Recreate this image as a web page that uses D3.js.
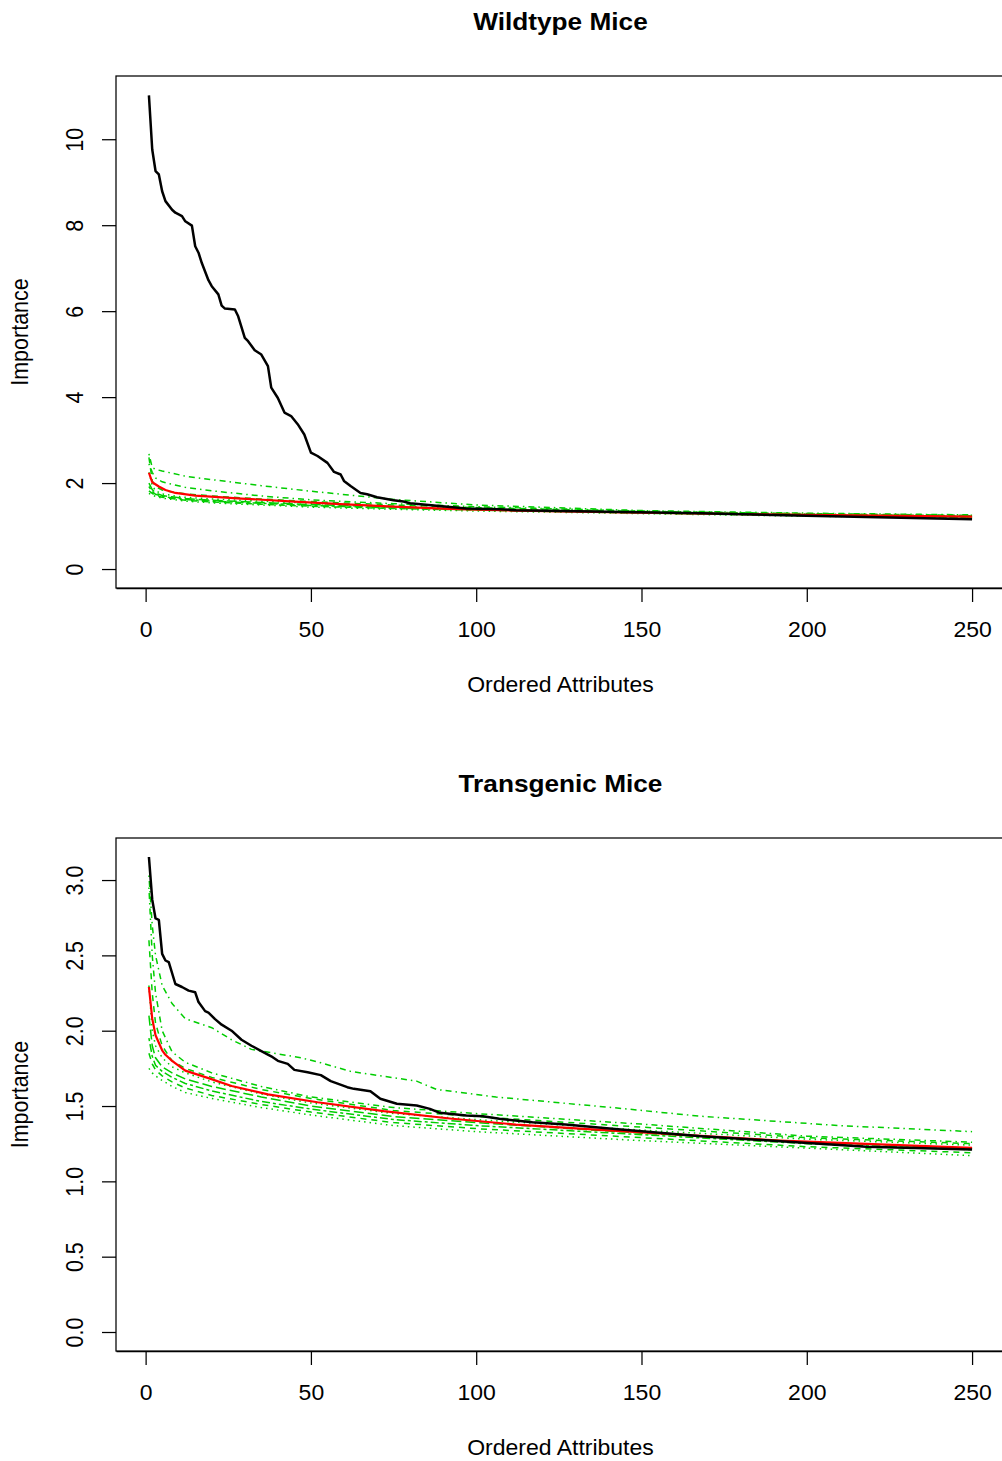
<!DOCTYPE html>
<html>
<head>
<meta charset="utf-8">
<script src="https://cdn.jsdelivr.net/npm/d3@7"></script>
<style>
  html, body { margin: 0; padding: 0; background: #fff; }
  svg { display: block; }
  text { font-family: "Liberation Sans", Arial, Helvetica, sans-serif; fill: #000; }
</style>
</head>
<body>
<svg id="chart" width="1002" height="1461"></svg>
<script>
// ---------------- DATA ----------------
const panelTitles = ["Wildtype Mice", "Transgenic Mice"];
const xLabel = "Ordered Attributes";
const yLabel = "Importance";
const xTicks = [0, 50, 100, 150, 200, 250];
const wtYTicks = [0, 2, 4, 6, 8, 10];
const tgYTicks = [0, 0.5, 1, 1.5, 2, 2.5, 3];
const tgYTickLabels = ["0.0", "0.5", "1.0", "1.5", "2.0", "2.5", "3.0"];

// Wildtype: observed importance (black)
const wtBlackX = [1,2,3,4,5,6,8,9,11,12,14,15,16,17,19,20,22,23,24,27,28,30,31,33,35,37,38,40,42,44,46,48,50,52,55,57,59,60,62,65,67,70,75,78,80,88,97,107,112,140,168,200,225,250];
const wtBlackY = [11.02,9.76,9.26,9.18,8.79,8.56,8.36,8.29,8.21,8.09,7.99,7.51,7.36,7.12,6.72,6.58,6.39,6.13,6.06,6.04,5.88,5.38,5.30,5.09,4.99,4.72,4.22,3.98,3.64,3.56,3.37,3.13,2.71,2.63,2.47,2.26,2.20,2.05,1.93,1.77,1.74,1.67,1.60,1.57,1.53,1.47,1.41,1.39,1.37,1.33,1.30,1.24,1.20,1.16];
// Wildtype: mean importance (red)
const wtRedX = [1,2,4,6,9,15,29,45,59,75,92,112,150,200,250];
const wtRedY = [2.24,2.02,1.92,1.84,1.77,1.71,1.64,1.57,1.51,1.45,1.40,1.36,1.31,1.26,1.22];
// Shared x positions for green (permuted) series
const greenX = [1,2,3,5,8,12,20,35,50,75,100,150,200,250];
const wtGreen1 = [2.68,2.36,2.32,2.28,2.23,2.16,2.08,1.94,1.81,1.62,1.49,1.36,1.30,1.26];
const wtGreen2 = [2.45,2.25,2.12,2.03,1.97,1.90,1.82,1.70,1.61,1.52,1.45,1.35,1.28,1.24];
const wtGreen3 = [2.60,2.05,1.92,1.84,1.79,1.75,1.70,1.63,1.57,1.49,1.43,1.34,1.29,1.25];
const wtGreen4 = [2.25,1.95,1.82,1.75,1.71,1.67,1.63,1.58,1.53,1.46,1.41,1.33,1.27,1.23];
const wtGreen5 = [2.00,1.85,1.77,1.71,1.68,1.64,1.60,1.55,1.50,1.44,1.39,1.32,1.26,1.22];
const wtGreen6 = [1.92,1.80,1.74,1.69,1.66,1.62,1.58,1.53,1.48,1.42,1.38,1.31,1.25,1.21];
const wtGreen7 = [1.82,1.76,1.71,1.67,1.64,1.60,1.56,1.51,1.46,1.41,1.37,1.30,1.24,1.20];
const wtGreen8 = [1.76,1.72,1.69,1.65,1.62,1.58,1.54,1.49,1.44,1.39,1.35,1.29,1.23,1.19];

// Transgenic: observed importance (black)
const tgBlackX = [1,2,3,4,5,6,7,9,11,13,15,16,18,19,21,23,26,29,32,35,38,40,43,45,49,53,56,61,63,68,71,76,82,86,89,97,102,107,117,127,137,142,168,192,218,250];
const tgBlackY = [3.153,2.87,2.745,2.736,2.51,2.466,2.455,2.31,2.29,2.266,2.255,2.19,2.13,2.12,2.077,2.04,2.00,1.94,1.90,1.865,1.83,1.80,1.78,1.74,1.724,1.705,1.665,1.625,1.614,1.598,1.548,1.515,1.503,1.481,1.455,1.437,1.432,1.415,1.392,1.377,1.357,1.348,1.30,1.266,1.229,1.211];
// Transgenic: mean importance (red)
const tgRedX = [1,2,3,4,5,6,8,12,19,26,37,52,72,92,112,140,192,250];
const tgRedY = [2.29,2.08,1.97,1.92,1.87,1.84,1.80,1.735,1.685,1.633,1.577,1.525,1.466,1.417,1.377,1.338,1.27,1.222];
// Transgenic green series (first one read at its own x positions)
const tgGreen1X = [1,2,3,5,8,12,20,26,32,47,53,62,82,88,106,142,168,210,250];
const tgGreen1Y = [3.03,2.70,2.50,2.30,2.18,2.08,2.02,1.94,1.876,1.82,1.787,1.73,1.665,1.61,1.56,1.488,1.432,1.37,1.33];
const tgGreen2 = [2.95,2.50,2.25,2.00,1.86,1.79,1.72,1.63,1.56,1.49,1.45,1.38,1.30,1.26];
const tgGreen3 = [2.60,2.25,2.05,1.90,1.80,1.75,1.69,1.61,1.55,1.47,1.43,1.36,1.29,1.25];
const tgGreen4 = [2.30,2.00,1.90,1.82,1.76,1.72,1.66,1.58,1.52,1.45,1.41,1.34,1.28,1.24];
const tgGreen5 = [2.10,1.90,1.82,1.76,1.72,1.68,1.63,1.56,1.50,1.43,1.39,1.32,1.26,1.22];
const tgGreen6 = [1.95,1.83,1.77,1.73,1.69,1.65,1.60,1.53,1.48,1.41,1.37,1.31,1.25,1.21];
const tgGreen7 = [1.85,1.78,1.74,1.70,1.66,1.62,1.57,1.51,1.46,1.39,1.35,1.29,1.23,1.19];
const tgGreen8 = [1.75,1.72,1.70,1.67,1.63,1.59,1.55,1.49,1.44,1.37,1.33,1.27,1.22,1.17];

// ---------------- DRAWING ----------------
const svg = d3.select("#chart");
const zip = (xs, ys) => xs.map((v, i) => [v, ys[i]]);

const dashStyles = {
  dashed: "6,5",
  dotted: "1.5,4",
  dotdash: "1.5,4,6,4",
  longdash: "10,4",
  twodash: "3,3,8,3"
};
const greenStyles = ["dotdash","dotdash","dashed","dotted","longdash","twodash","dashed","dotted"];
const STRETCH = 1.07;
const FS = 21.5;

const panels = [
  {
    title: panelTitles[0], top: 76, bottom: 588, yDomain: [-0.4412, 11.4712],
    yTicks: wtYTicks, yFmt: d => String(d),
    black: zip(wtBlackX, wtBlackY), red: zip(wtRedX, wtRedY),
    greens: [wtGreen1, wtGreen2, wtGreen3, wtGreen4, wtGreen5, wtGreen6, wtGreen7, wtGreen8].map(g => zip(greenX, g))
  },
  {
    title: panelTitles[1], top: 838, bottom: 1351, yDomain: [-0.1261, 3.2791],
    yTicks: tgYTicks, yFmt: (d, i) => tgYTickLabels[i],
    black: zip(tgBlackX, tgBlackY), red: zip(tgRedX, tgRedY),
    greens: [zip(tgGreen1X, tgGreen1Y)].concat([tgGreen2, tgGreen3, tgGreen4, tgGreen5, tgGreen6, tgGreen7, tgGreen8].map(g => zip(greenX, g)))
  }
];

const left = 116, right = 1005;
const x = d3.scaleLinear().domain([-8.96, 259.96]).range([left, right]);

panels.forEach(p => {
  const y = d3.scaleLinear().domain(p.yDomain).range([p.bottom, p.top]);
  const g = svg.append("g");
  const line = d3.line().x(d => x(d[0])).y(d => y(d[1]));

  // green series
  p.greens.forEach((s, i) => {
    g.append("path").datum(s).attr("d", line)
      .attr("fill", "none").attr("stroke", "#00CD00").attr("stroke-width", 1.5)
      .attr("stroke-dasharray", dashStyles[greenStyles[i % greenStyles.length]]);
  });
  // red mean
  g.append("path").datum(p.red).attr("d", line)
    .attr("fill", "none").attr("stroke", "#FF0000").attr("stroke-width", 2.2)
    .attr("stroke-linejoin", "round");
  // black observed
  g.append("path").datum(p.black).attr("d", line)
    .attr("fill", "none").attr("stroke", "#000").attr("stroke-width", 2.5)
    .attr("stroke-linejoin", "round");

  // box
  g.append("rect").attr("x", left).attr("y", p.top)
    .attr("width", right - left).attr("height", p.bottom - p.top)
    .attr("fill", "none").attr("stroke", "#000").attr("stroke-width", 1.25);

  // x axis
  const xa = g.append("g").attr("transform", `translate(0,${p.bottom})`)
    .call(d3.axisBottom(x).tickValues(xTicks).tickSize(14).tickSizeOuter(0).tickPadding(20));
  xa.select(".domain").attr("stroke-width", 1.25);
  xa.selectAll(".tick line").attr("stroke-width", 1.25);
  xa.selectAll(".tick text")
    .attr("font-size", FS).attr("font-family", "Liberation Sans, Arial, sans-serif")
    .attr("y", 49.5).attr("dy", 0)
    .attr("transform", `scale(${STRETCH},1)`);

  // y axis
  const ya = g.append("g").attr("transform", `translate(${left},0)`)
    .call(d3.axisLeft(y).tickValues(p.yTicks).tickFormat(p.yFmt).tickSize(14).tickSizeOuter(0));
  ya.select(".domain").remove();
  ya.selectAll(".tick line").attr("stroke-width", 1.25);
  ya.selectAll(".tick text")
    .attr("font-size", FS).attr("font-family", "Liberation Sans, Arial, sans-serif")
    .attr("x", 0).attr("y", 0).attr("dy", 0)
    .attr("text-anchor", "middle")
    .attr("transform", `translate(-33,0) scale(${STRETCH},1) rotate(-90)`);

  // titles and labels
  const cx = (left + right) / 2;
  g.append("text").text(p.title)
    .attr("font-size", 24.5).attr("font-weight", "bold").attr("text-anchor", "middle")
    .attr("transform", `translate(${cx},${p.top - 46.5}) scale(${STRETCH},1)`);
  g.append("text").text(xLabel)
    .attr("font-size", FS).attr("text-anchor", "middle")
    .attr("transform", `translate(${cx},${p.bottom + 104}) scale(${STRETCH},1)`);
  g.append("text").text(yLabel)
    .attr("font-size", FS).attr("text-anchor", "middle")
    .attr("transform", `translate(28,${(p.top + p.bottom) / 2}) scale(${STRETCH},1) rotate(-90)`);
});
</script>
</body>
</html>
